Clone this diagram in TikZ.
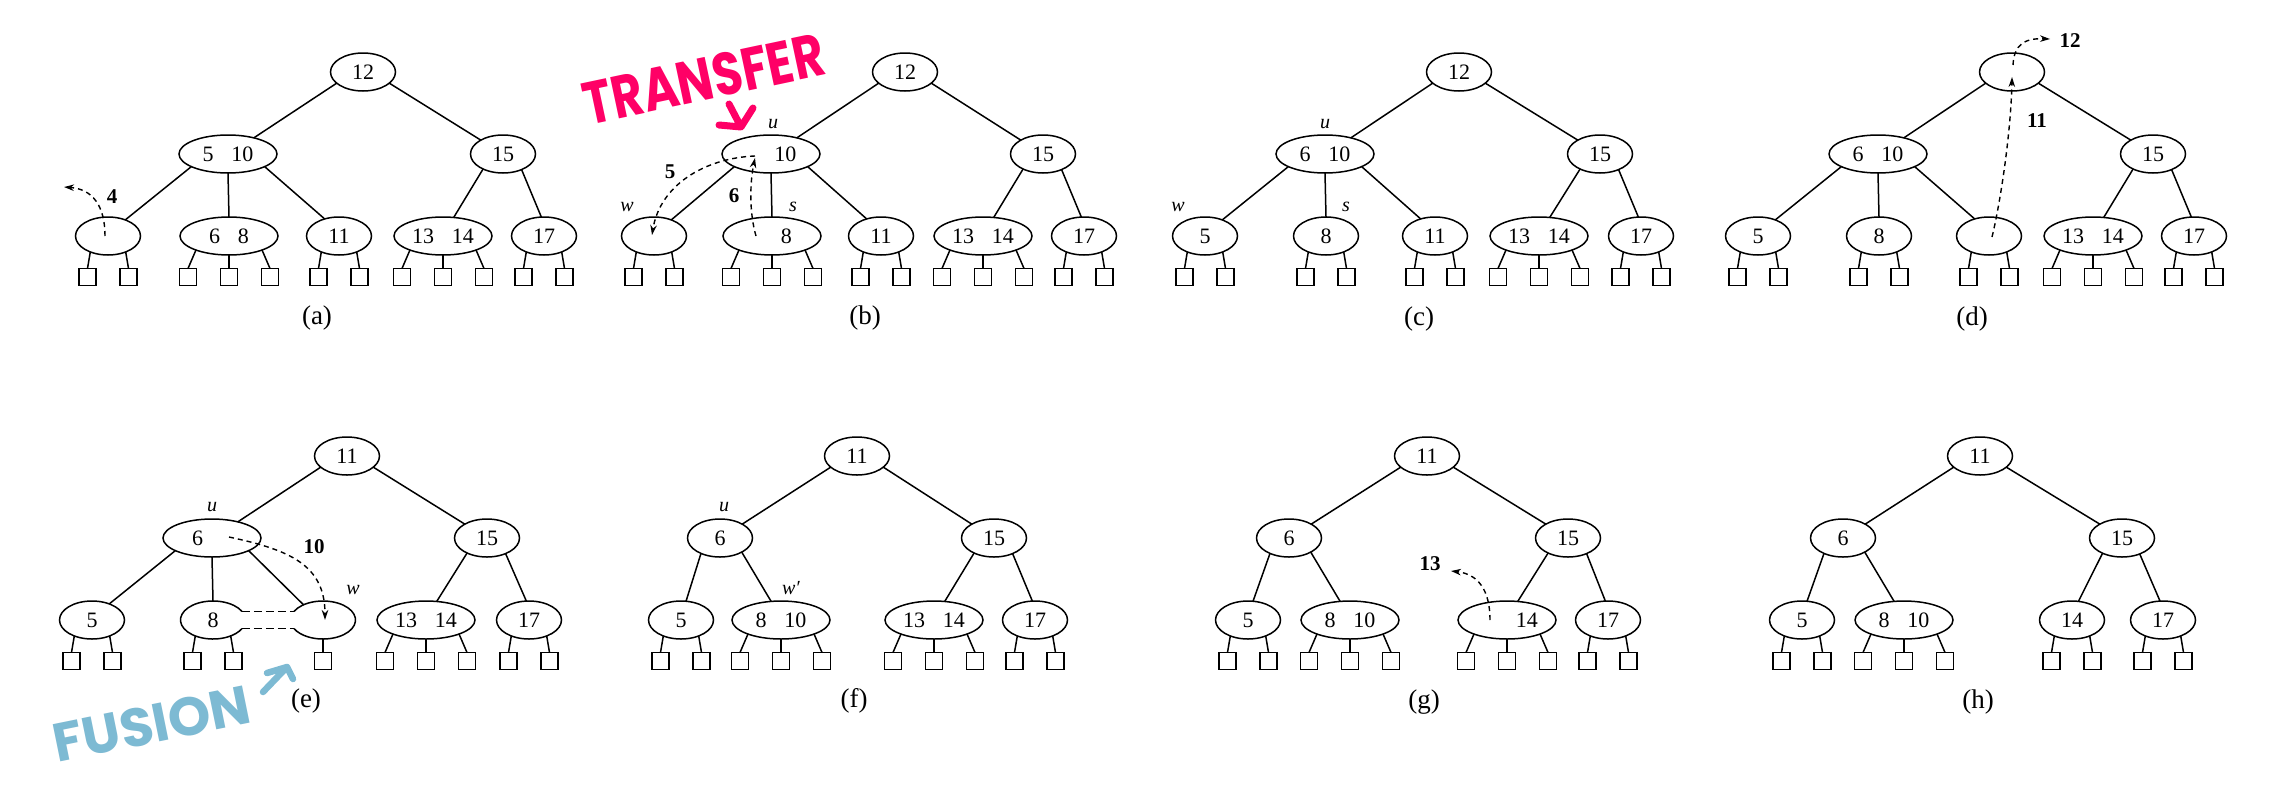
\documentclass[tikz,border=0pt]{standalone}
\usepackage{fontspec}
\setmainfont{Liberation Serif}
\newfontfamily\markerfont{Poppins}
\usepackage{graphicx}
\usetikzlibrary{shapes.geometric,arrows.meta,calc}

\newcommand\keyfont{\fontsize{22pt}{24pt}\selectfont}
\newcommand\movefont{\fontsize{21pt}{23pt}\selectfont\bfseries}
\newcommand\rolefont{\fontsize{20pt}{22pt}\selectfont\itshape}
\newcommand\panelfont{\fontsize{27pt}{30pt}\selectfont}
\newcommand\twokeys[2]{#1\hspace{0.8em}#2}

\definecolor{markerpink}{HTML}{FF0066}
\definecolor{markerblue}{HTML}{7DBAD3}

\tikzset{
  keynode/.style={ellipse, draw, line width=1.5pt, minimum width=65pt,
    minimum height=38pt, inner sep=0pt, outer sep=0pt, font=\keyfont},
  widenode/.style={keynode, minimum width=98pt},
  ghostnode/.style={keynode, draw=none},
  leafbox/.style={rectangle, draw, line width=1.5pt, minimum size=17pt,
    inner sep=0pt, outer sep=0pt},
  link/.style={line width=1.5pt},
  hop/.style={line width=1.4pt, dash pattern=on 5pt off 4pt,
    -{Stealth[length=10pt,width=6.5pt]}},
  joinline/.style={line width=1.5pt, dash pattern=on 8pt off 4pt},
  movelabel/.style={font=\movefont, inner sep=0pt},
  rolelabel/.style={font=\rolefont, inner sep=0pt},
  panel/.style={font=\panelfont, inner sep=0pt},
  scribble/.style={line width=7pt, line cap=round, line join=round},
}

% external leaves hanging below a key node
\newcommand\oneleaf[1]{%
  \node[leafbox] (#1-1) at ($(#1)+(0,41)$) {};
  \draw[link] (#1.south) -- (#1-1.north);}
\newcommand\twoleaves[1]{%
  \node[leafbox] (#1-1) at ($(#1)+(-20.5,41)$) {};
  \node[leafbox] (#1-2) at ($(#1)+(20.5,41)$) {};
  \draw[link] (#1.222) -- (#1-1.north);
  \draw[link] (#1.318) -- (#1-2.north);}
\newcommand\threeleaves[1]{%
  \node[leafbox] (#1-1) at ($(#1)+(-41,41)$) {};
  \node[leafbox] (#1-2) at ($(#1)+(0,41)$) {};
  \node[leafbox] (#1-3) at ($(#1)+(41,41)$) {};
  \draw[link] (#1.203) -- (#1-1.north);
  \draw[link] (#1.south) -- (#1-2.north);
  \draw[link] (#1.337) -- (#1-3.north);}

% tree with a 3-child left subtree (r root, u/v level 2, p q x y z level 3)
\newcommand\upperlinks[2]{%
  \draw[link] (#1r.203) -- (#1u.32);
  \draw[link] (#1r.337) -- (#1v.148);
  \draw[link] (#1u.199) -- (#1p.43);
  \draw[link] (#1u.south) -- (#1q.north);
  \draw[link] (#1u.341) -- (#1x.#2);
  \draw[link] (#1v.217) -- (#1y.60);
  \draw[link] (#1v.320) -- (#1z.98);}
% tree with a 2-child left subtree
\newcommand\lowerlinks[1]{%
  \draw[link] (#1r.203) -- (#1u.32);
  \draw[link] (#1r.337) -- (#1v.148);
  \draw[link] (#1u.219) -- (#1p.75);
  \draw[link] (#1u.327) -- (#1q.118);}

\begin{document}
\begin{tikzpicture}[x=1pt,y=-1pt]
\fill[white] (0,0) rectangle (2269,790);
\useasboundingbox (0,0) rectangle (2269,790);

% ---------------- (a)
\node[keynode]  (ar) at (363,72)  {12};
\node[widenode] (au) at (228,154) {\twokeys{5}{10}};
\node[keynode]  (av) at (503,154) {15};
\node[keynode]  (ap) at (108,236) {};
\node[widenode] (aq) at (229,236) {\twokeys{6}{8}};
\node[keynode]  (ax) at (339,236) {11};
\node[widenode] (ay) at (443,236) {\twokeys{13}{14}};
\node[keynode]  (az) at (544,236) {17};
\upperlinks{a}{130}
\twoleaves{ap}\threeleaves{aq}\twoleaves{ax}\threeleaves{ay}\twoleaves{az}
\coordinate (a4s) at (105,236);
\coordinate (a4e) at (64,187);
\draw[hop] (a4s) .. controls (105,205) and (92,189) .. (a4e);
\node[movelabel] (a4) at (112,197) {4};
\node[panel] (acap) at (317,318) {(a)};

% ---------------- (b)
\node[keynode]  (br) at (905,72)   {12};
\node[widenode] (bu) at (771,154)  {\twokeys{\hphantom{5}}{10}};
\node[keynode]  (bv) at (1043,154) {15};
\node[keynode]  (bp) at (654,236)  {};
\node[widenode] (bq) at (772,236)  {\twokeys{\hphantom{6}}{8}};
\node[keynode]  (bx) at (881,236)  {11};
\node[widenode] (by) at (983,236)  {\twokeys{13}{14}};
\node[keynode]  (bz) at (1084,236) {17};
\upperlinks{b}{130}
\twoleaves{bp}\threeleaves{bq}\twoleaves{bx}\threeleaves{by}\twoleaves{bz}
\node[rolelabel] (bul) at (773,124) {u};
\node[rolelabel] (bpl) at (627,207) {w};
\node[rolelabel] (bql) at (793,207) {s};
\coordinate (b5s) at (755,156);
\coordinate (b5e) at (652,235);
\draw[hop] (b5s) .. controls (705,158) and (660,185) .. (b5e);
\coordinate (b6s) at (756,236);
\coordinate (b6e) at (755,158);
\draw[hop] (b6s) .. controls (749,212) and (750,182) .. (b6e);
\node[movelabel] (b5) at (670,172) {5};
\node[movelabel] (b6) at (734,196) {6};
\node[panel] (bcap) at (865,318) {(b)};
\node[rotate=12, text=markerpink, inner sep=0pt] (transfer) at (704,79)
  {\scalebox{0.8}[1]{\markerfont\bfseries\fontsize{60pt}{60pt}\selectfont TRANSFER}};
\coordinate (pk1) at (729,104);
\coordinate (pk2) at (741,127);
\coordinate (pk3) at (719,125);
\coordinate (pk4) at (753,108);
\draw[scribble, markerpink] (pk1) -- (pk2) (pk3) -- (pk2) -- (pk4);

% ---------------- (c)
\node[keynode]  (cr) at (1459,72)  {12};
\node[widenode] (cu) at (1325,154) {\twokeys{6}{10}};
\node[keynode]  (cv) at (1600,154) {15};
\node[keynode]  (cp) at (1205,236) {5};
\node[keynode]  (cq) at (1326,236) {8};
\node[keynode]  (cx) at (1435,236) {11};
\node[widenode] (cy) at (1539,236) {\twokeys{13}{14}};
\node[keynode]  (cz) at (1641,236) {17};
\upperlinks{c}{130}
\twoleaves{cp}\twoleaves{cq}\twoleaves{cx}\threeleaves{cy}\twoleaves{cz}
\node[rolelabel] (cul) at (1325,124) {u};
\node[rolelabel] (cpl) at (1178,207) {w};
\node[rolelabel] (cql) at (1346,207) {s};
\node[panel] (ccap) at (1419,319) {(c)};

% ---------------- (d)
\node[keynode]  (dr) at (2012,72)  {};
\node[widenode] (du) at (1878,154) {\twokeys{6}{10}};
\node[keynode]  (dv) at (2153,154) {15};
\node[keynode]  (dp) at (1758,236) {5};
\node[keynode]  (dq) at (1879,236) {8};
\node[keynode]  (dx) at (1989,236) {};
\node[widenode] (dy) at (2093,236) {\twokeys{13}{14}};
\node[keynode]  (dz) at (2194,236) {17};
\upperlinks{d}{130}
\twoleaves{dp}\twoleaves{dq}\twoleaves{dx}\threeleaves{dy}\twoleaves{dz}
\coordinate (d11s) at (1992,237);
\coordinate (d11e) at (2012,77);
\draw[hop] (d11s) .. controls (2001,200) and (2011,130) .. (d11e);
\coordinate (d12s) at (2013,65);
\coordinate (d12e) at (2050,39);
\draw[hop] (d12s) .. controls (2014,45) and (2024,38) .. (d12e);
\node[movelabel] (d11) at (2037,121) {11};
\node[movelabel] (d12) at (2070,41) {12};
\node[panel] (dcap) at (1972,319) {(d)};

% ---------------- (e)
\node[keynode]   (er) at (347,456) {11};
\node[widenode]  (eu) at (212,538) {\twokeys{6}{\hphantom{8}}};
\node[keynode]   (ev) at (487,538) {15};
\node[keynode]   (ep) at (92,620)  {5};
\node[ghostnode] (eq) at (213,620) {8};
\node[ghostnode] (ex) at (323,620) {};
\node[widenode]  (ey) at (426,620) {\twokeys{13}{14}};
\node[keynode]   (ez) at (529,620) {17};
\upperlinks{e}{142}
\twoleaves{ep}\twoleaves{eq}\oneleaf{ex}\threeleaves{ey}\twoleaves{ez}
% the two nodes being fused, open towards each other
\draw[link] (eq.center) ++(27:32.5pt and 19pt)
  arc[start angle=27, end angle=333, x radius=32.5pt, y radius=19pt];
\draw[link] (ex.center) ++(153:32.5pt and 19pt)
  arc[start angle=153, end angle=-153, x radius=32.5pt, y radius=19pt];
\coordinate (ej1) at ($(eq.center)+(27:32.5pt and 19pt)$);
\coordinate (ej2) at ($(ex.center)+(153:32.5pt and 19pt)$);
\coordinate (ej3) at ($(eq.center)+(-27:32.5pt and 19pt)$);
\coordinate (ej4) at ($(ex.center)+(-153:32.5pt and 19pt)$);
\draw[joinline] (ej1) -- (ej2);
\draw[joinline] (ej3) -- (ej4);
\node[rolelabel] (eul) at (212,507) {u};
\node[rolelabel] (exl) at (353,590) {w};
\coordinate (e10s) at (229,537);
\coordinate (e10e) at (325,620);
\draw[hop] (e10s) .. controls (290,550) and (325,565) .. (e10e);
\node[movelabel] (e10) at (314,547) {10};
\node[panel] (ecap) at (306,701) {(e)};
\node[rotate=11.5, text=markerblue, inner sep=0pt] (fusion) at (152,724)
  {\markerfont\bfseries\fontsize{54pt}{54pt}\selectfont FUSION};
\coordinate (bl1) at (263,692);
\coordinate (bl2) at (287,667);
\coordinate (bl3) at (267,673);
\coordinate (bl4) at (293,679);
\draw[scribble, markerblue, line width=6.5pt] (bl1) -- (bl2) (bl3) -- (bl2) -- (bl4);

% ---------------- (f)
\node[keynode]  (fr) at (857,456)  {11};
\node[keynode]  (fu) at (720,538)  {6};
\node[keynode]  (fv) at (994,538)  {15};
\node[keynode]  (fp) at (681,620)  {5};
\node[widenode] (fq) at (781,620)  {\twokeys{8}{10}};
\node[widenode] (fy) at (934,620)  {\twokeys{13}{14}};
\node[keynode]  (fz) at (1035,620) {17};
\lowerlinks{f}
\draw[link] (fv.217) -- (fy.60);
\draw[link] (fv.320) -- (fz.98);
\twoleaves{fp}\threeleaves{fq}\threeleaves{fy}\twoleaves{fz}
\node[rolelabel] (ful) at (724,507) {u};
\node[rolelabel] (fql) at (791,588) {w′};
\node[panel] (fcap) at (854,701) {(f)};

% ---------------- (g)
\node[keynode]  (gr) at (1427,456) {11};
\node[keynode]  (gu) at (1289,538) {6};
\node[keynode]  (gv) at (1568,538) {15};
\node[keynode]  (gp) at (1248,620) {5};
\node[widenode] (gq) at (1350,620) {\twokeys{8}{10}};
\node[widenode] (gy) at (1507,620) {\twokeys{\hphantom{13}}{14}};
\node[keynode]  (gz) at (1608,620) {17};
\lowerlinks{g}
\draw[link] (gv.217) -- (gy.60);
\draw[link] (gv.320) -- (gz.98);
\twoleaves{gp}\threeleaves{gq}\threeleaves{gy}\twoleaves{gz}
\coordinate (g13s) at (1490,620);
\coordinate (g13e) at (1451,571);
\draw[hop] (g13s) .. controls (1490,590) and (1478,574) .. (g13e);
\node[movelabel] (g13) at (1430,564) {13};
\node[panel] (gcap) at (1424,702) {(g)};

% ---------------- (h)
\node[keynode]  (hr) at (1980,456) {11};
\node[keynode]  (hu) at (1843,538) {6};
\node[keynode]  (hv) at (2122,538) {15};
\node[keynode]  (hp) at (1802,620) {5};
\node[widenode] (hq) at (1904,620) {\twokeys{8}{10}};
\node[keynode]  (hy) at (2072,620) {14};
\node[keynode]  (hz) at (2163,620) {17};
\lowerlinks{h}
\draw[link] (hv.218) -- (hy.71);
\draw[link] (hv.318) -- (hz.99);
\twoleaves{hp}\threeleaves{hq}\twoleaves{hy}\twoleaves{hz}
\node[panel] (hcap) at (1978,702) {(h)};
\end{tikzpicture}
\end{document}
